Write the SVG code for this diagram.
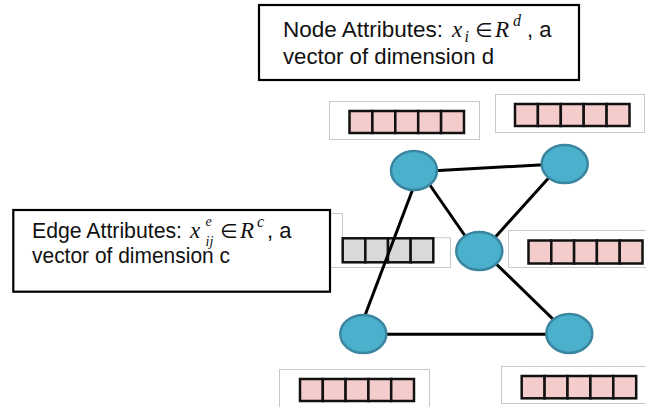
<svg xmlns="http://www.w3.org/2000/svg" width="646" height="407" viewBox="0 0 646 407">
<style>
.bg{fill:#ffffff}
.frame{fill:#ffffff;stroke:#c8c8c8;stroke-width:1}
.pink{fill:#f4cccc;stroke:#111;stroke-width:2.5}
.gray{fill:#d9d9d9;stroke:#111;stroke-width:2.5}
.node{fill:#4bb0cb;stroke:#3a86a0;stroke-width:2.5}
.edge{stroke:#000;stroke-width:3;fill:none}
.label{fill:#ffffff;stroke:#000;stroke-width:2.2}
.t{font-family:"Liberation Sans",Arial,sans-serif;font-size:22px;fill:#111}
.m{font-family:"Liberation Serif","DejaVu Serif",serif;font-style:italic;font-size:23px;fill:#111}
.ms{font-family:"Liberation Serif","DejaVu Serif",serif;font-style:italic;font-size:16px;fill:#111}
.mss{font-family:"Liberation Serif","DejaVu Serif",serif;font-style:italic;font-size:14px;fill:#111}
.sym{font-family:"DejaVu Sans",sans-serif;font-size:20px;fill:#111}
</style>
<rect class="bg" x="0" y="0" width="646" height="407"/>

<g id="vec-top-left">
<rect class="frame" x="329.5" y="101.5" width="150" height="38"/>
<rect class="pink" x="349.5" y="111" width="22.9" height="22"/>
<rect class="pink" x="372.4" y="111" width="22.9" height="22"/>
<rect class="pink" x="395.3" y="111" width="22.9" height="22"/>
<rect class="pink" x="418.2" y="111" width="22.9" height="22"/>
<rect class="pink" x="441.1" y="111" width="22.9" height="22"/>
</g>
<g id="vec-top-right">
<rect class="frame" x="495.5" y="94.5" width="149" height="38"/>
<rect class="pink" x="515" y="104" width="22.9" height="22"/>
<rect class="pink" x="537.9" y="104" width="22.9" height="22"/>
<rect class="pink" x="560.8" y="104" width="22.9" height="22"/>
<rect class="pink" x="583.7" y="104" width="22.9" height="22"/>
<rect class="pink" x="606.6" y="104" width="22.9" height="22"/>
</g>
<g id="vec-mid-right">
<rect class="frame" x="508.5" y="230.5" width="145" height="37"/>
<rect class="pink" x="528.5" y="240.5" width="22.8" height="23"/>
<rect class="pink" x="551.3" y="240.5" width="22.8" height="23"/>
<rect class="pink" x="574.1" y="240.5" width="22.8" height="23"/>
<rect class="pink" x="596.9" y="240.5" width="22.8" height="23"/>
<rect class="pink" x="619.7" y="240.5" width="22.8" height="23"/>
</g>
<g id="vec-bottom-left">
<rect class="frame" x="279.5" y="369.5" width="150" height="45"/>
<rect class="pink" x="300" y="379" width="22.8" height="22"/>
<rect class="pink" x="322.8" y="379" width="22.8" height="22"/>
<rect class="pink" x="345.6" y="379" width="22.8" height="22"/>
<rect class="pink" x="368.4" y="379" width="22.8" height="22"/>
<rect class="pink" x="391.2" y="379" width="22.8" height="22"/>
</g>
<g id="vec-bottom-right">
<rect class="frame" x="501.5" y="366.5" width="150" height="37"/>
<rect class="pink" x="521.7" y="376" width="22.9" height="22.3"/>
<rect class="pink" x="544.6" y="376" width="22.9" height="22.3"/>
<rect class="pink" x="567.5" y="376" width="22.9" height="22.3"/>
<rect class="pink" x="590.4" y="376" width="22.9" height="22.3"/>
<rect class="pink" x="613.3" y="376" width="22.9" height="22.3"/>
</g>
<g id="vec-edge">
<path d="M300 213.5 H342.5 V237.8 H450.5 V267.5 H300" fill="none" stroke="#c8c8c8" stroke-width="1"/>
<rect class="gray" x="342.7" y="238.3" width="22.65" height="24"/>
<rect class="gray" x="365.35" y="238.3" width="22.65" height="24"/>
<rect class="gray" x="388" y="238.3" width="22.65" height="24"/>
<rect class="gray" x="410.65" y="238.3" width="22.65" height="24"/>
</g>

<g id="connectors">
<line class="edge" x1="430" y1="171" x2="548" y2="164.5"/>
<line class="edge" x1="425" y1="178" x2="470" y2="243"/>
<line class="edge" x1="554" y1="172" x2="490" y2="243"/>
<line class="edge" x1="414" y1="186" x2="364" y2="318"/>
<line class="edge" x1="488" y1="256" x2="558" y2="324"/>
<line class="edge" x1="380" y1="334.3" x2="552" y2="334.3"/>
</g>

<g id="node-1"><ellipse class="node" cx="414" cy="170.5" rx="23" ry="19.5"/></g>
<g id="node-2"><ellipse class="node" cx="564.7" cy="164" rx="23" ry="19"/></g>
<g id="node-3"><ellipse class="node" cx="479.3" cy="251" rx="23" ry="19"/></g>
<g id="node-4"><ellipse class="node" cx="363.3" cy="334" rx="23" ry="19"/></g>
<g id="node-5"><ellipse class="node" cx="569.3" cy="333.5" rx="23" ry="19.5"/></g>

<g id="node-attributes-label">
<rect class="label" x="259" y="5" width="320" height="75"/>
<text class="t" x="283" y="36.7" textLength="160" lengthAdjust="spacingAndGlyphs">Node Attributes:</text>
<text class="m" x="452" y="36.7">x</text>
<text class="ms" x="464.5" y="41.5">i</text>
<text class="sym" x="475" y="36.7">∈</text>
<text class="m" x="495" y="36.7">R</text>
<text class="ms" x="513" y="25.5">d</text>
<text class="t" x="527" y="36.7">, a</text>
<text class="t" x="283" y="64.3" textLength="211" lengthAdjust="spacingAndGlyphs">vector of dimension d</text>
</g>

<g id="edge-attributes-label">
<rect class="label" x="13.3" y="210" width="316.7" height="81.7"/>
<text class="t" x="32" y="237.7" textLength="150" lengthAdjust="spacingAndGlyphs">Edge Attributes:</text>
<text class="m" x="190" y="237.7">x</text>
<text class="mss" x="205.5" y="225.5">e</text>
<text class="mss" x="205.5" y="246">ij</text>
<text class="sym" x="220" y="237.7">∈</text>
<text class="m" x="240" y="237.7">R</text>
<text class="ms" x="257" y="226.5">c</text>
<text class="t" x="267" y="237.7">, a</text>
<text class="t" x="32" y="263.3" textLength="198" lengthAdjust="spacingAndGlyphs">vector of dimension c</text>
</g>
</svg>
